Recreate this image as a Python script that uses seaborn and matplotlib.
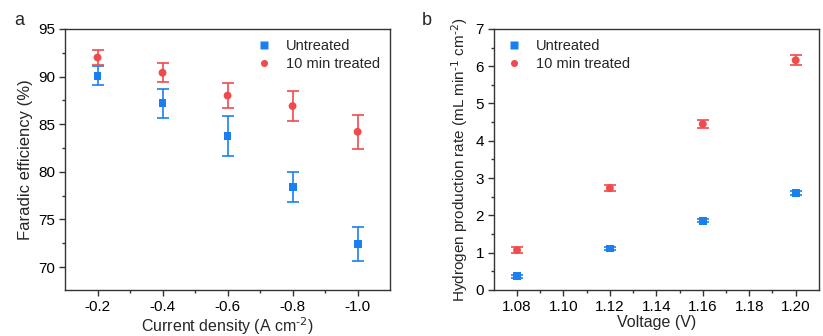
import numpy as np
import pandas as pd
import matplotlib
matplotlib.use("Agg")
import matplotlib.pyplot as plt
import seaborn as sns

sns.set_theme(style="ticks")
plt.rcParams['font.family'] = ['Liberation Sans', 'DejaVu Sans']
plt.rcParams['mathtext.default'] = 'regular'

# Panel a data
current_density = [-0.2, -0.4, -0.6, -0.8, -1.0]
fe_untreated = [90.1, 87.2, 83.8, 78.4, 72.4]
fe_untreated_err = [1.0, 1.5, 2.1, 1.6, 1.8]
fe_treated = [92.0, 90.4, 88.0, 86.9, 84.2]
fe_treated_err = [0.8, 1.0, 1.3, 1.6, 1.8]

# Panel b data
voltage = [1.08, 1.12, 1.16, 1.20]
h2_untreated = [0.37, 1.11, 1.86, 2.60]
h2_untreated_err = [0.04, 0.05, 0.05, 0.05]
h2_treated = [1.07, 2.73, 4.45, 6.16]
h2_treated_err = [0.07, 0.08, 0.10, 0.13]

series_names = ["Untreated", "10 min treated"]
blue = "#1a80f0"
red = "#f24a4a"
palette = {series_names[0]: blue, series_names[1]: red}
markers = {series_names[0]: "s", series_names[1]: "o"}

fig = plt.figure(figsize=(8.23, 3.36), dpi=100)
ax1 = fig.add_axes([0.079, 0.137, 0.395, 0.777])
ax2 = fig.add_axes([0.600, 0.137, 0.395, 0.777])

def draw(ax, x, ys, errs):
    rows = []
    for name, y in zip(series_names, ys):
        for xi, yi in zip(x, y):
            rows.append({"x": xi, "y": yi, "series": name})
    df = pd.DataFrame(rows)
    for name, y, e in zip(series_names, ys, errs):
        ax.errorbar(x, y, yerr=e, fmt="none", ecolor=palette[name],
                    elinewidth=1.2, capsize=4, capthick=1.2, zorder=2)
    sns.scatterplot(data=df, x="x", y="y", hue="series", style="series",
                    palette=palette, markers=markers, s=32, edgecolor="none",
                    ax=ax, zorder=3)

draw(ax1, current_density, [fe_untreated, fe_treated], [fe_untreated_err, fe_treated_err])
draw(ax2, voltage, [h2_untreated, h2_treated], [h2_untreated_err, h2_treated_err])

LABEL_FS = 11.5
TICK_FS = 11

# Panel a axes
ax1.set_xlim(-0.1, -1.1)
ax1.set_ylim(67.6, 95)
ax1.set_xticks([-0.2, -0.4, -0.6, -0.8, -1.0])
ax1.set_xticklabels(["-0.2", "-0.4", "-0.6", "-0.8", "-1.0"])
ax1.set_xticks([-0.3, -0.5, -0.7, -0.9], minor=True)
ax1.set_yticks([70, 75, 80, 85, 90, 95])
ax1.set_yticks([72.5, 77.5, 82.5, 87.5, 92.5], minor=True)
ax1.set_xlabel(r"Current density (A cm$^{\text{-2}}$)", fontsize=LABEL_FS, labelpad=1)
ax1.set_ylabel("Faradic efficiency (%)", fontsize=LABEL_FS + 0.5, labelpad=4)

# Panel b axes
ax2.set_xlim(1.07, 1.21)
ax2.set_ylim(0, 7)
ax2.set_xticks([1.08, 1.10, 1.12, 1.14, 1.16, 1.18, 1.20])
ax2.set_xticklabels(["1.08", "1.10", "1.12", "1.14", "1.16", "1.18", "1.20"])
ax2.set_xticks([1.09, 1.11, 1.13, 1.15, 1.17, 1.19], minor=True)
ax2.set_yticks(range(0, 8))
ax2.set_yticks([0.5, 1.5, 2.5, 3.5, 4.5, 5.5, 6.5], minor=True)
ax2.set_xlabel("Voltage (V)", fontsize=LABEL_FS, labelpad=1)
ax2.set_ylabel(r"Hydrogen production rate (mL min$^{\text{-1}}$ cm$^{\text{-2}}$)",
               fontsize=LABEL_FS - 0.5, labelpad=4)

for ax in (ax1, ax2):
    for sp in ax.spines.values():
        sp.set_color("#333333")
        sp.set_linewidth(1.0)
    ax.tick_params(which="major", direction="out", length=4, width=1.0,
                   colors="#333333", labelsize=TICK_FS, labelcolor="black", pad=3)
    ax.tick_params(which="minor", direction="out", length=2.5, width=1.0,
                   colors="#333333")

leg1 = ax1.legend(loc="upper right", frameon=False, fontsize=10.5,
                  handletextpad=0.5, borderaxespad=0.3, labelspacing=0.25,
                  markerscale=0.9)
leg2 = ax2.legend(loc="upper left", bbox_to_anchor=(-0.015, 1.0), frameon=False,
                  fontsize=10.5, handletextpad=0.5, borderaxespad=0.3,
                  labelspacing=0.25, markerscale=0.9)

fig.text(0.017, 0.94, "a", fontsize=13, va="center", ha="left")
fig.text(0.512, 0.94, "b", fontsize=13, va="center", ha="left")

fig.savefig("out.png", dpi=100)
